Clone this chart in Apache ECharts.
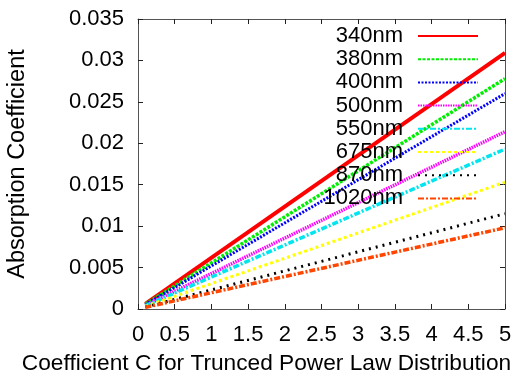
<!DOCTYPE html>
<html><head><meta charset="utf-8">
<script src="https://cdn.jsdelivr.net/npm/echarts@6/dist/echarts.min.js"></script>
<style>html,body{margin:0;padding:0;background:#fff}#c{width:517px;height:373px}</style>
</head><body><div id="c"></div>
<script>
var names = ['340nm','380nm','400nm','500nm','550nm','675nm','870nm','1020nm'];
var xStart = 0.1, xEnd = 5;
var startVals = [0.00062, 0.00056, 0.00052, 0.00043, 0.00039, 0.00031, 0.00023, 0.0002];
var endVals = [0.0309, 0.0278, 0.0260, 0.0214, 0.0193, 0.0153, 0.0115, 0.0098];
var colors = ['#ff0000','#00ee00','#0000ff','#ff00ff','#00e5ee','#ffff00','#000000','#ff4500'];
var dashes = ['solid',[3,1.5],[2,1.5],[1.5,1],[6,2,2,2],[3,3],[2,5],[6,2,2,2]];
var widths = [4,3.5,3,3.5,3.5,3,3,3.5];

var font = 'Liberation Sans, Arial, sans-serif';
var series = names.map(function(n,i){
  return {name:n,type:'line',showSymbol:false,symbol:'none',
    data:[[xStart,startVals[i]],[xEnd,endVals[i]]],
    lineStyle:{color:colors[i],width:widths[i],type:dashes[i]},
    itemStyle:{color:colors[i]}};
});
var axLine = {show:true,onZero:false,lineStyle:{color:'#555',width:1}};
var tick = {show:true,inside:true,length:5,lineStyle:{color:'#222',width:1}};
var chart = echarts.init(document.getElementById('c'));
chart.setOption({
  animation:false,
  grid:{left:138,right:12,top:19,bottom:64,outerBoundsMode:'none'},
  legend:{orient:'vertical',align:'right',right:33,top:20,itemWidth:60,itemHeight:10,itemGap:1.2,
    itemStyle:{opacity:0},
    textStyle:{fontFamily:font,fontSize:22,color:'#000',lineHeight:22,padding:[0,10,0,0]},
    data:names},
  xAxis:[{type:'value',min:0,max:5,interval:0.5,
    name:'Coefficient C for Trunced Power Law Distribution',nameLocation:'middle',nameGap:43,
    nameTextStyle:{fontFamily:font,fontSize:22.7,color:'#000',padding:[0,110,0,0]},
    axisLine:axLine,axisTick:tick,splitLine:{show:false},
    axisLabel:{fontFamily:font,fontSize:22,color:'#000',margin:15}},
   {type:'value',min:0,max:5,interval:0.5,position:'top',
    axisLine:axLine,axisTick:tick,splitLine:{show:false},axisLabel:{show:false}}],
  yAxis:[{type:'value',min:0,max:0.035,interval:0.005,
    name:'Absorption Coefficient',nameLocation:'middle',nameGap:108,
    nameTextStyle:{fontFamily:font,fontSize:23.5,color:'#000'},
    axisLine:axLine,axisTick:tick,splitLine:{show:false},
    axisLabel:{fontFamily:font,fontSize:22,color:'#000',margin:14}},
   {type:'value',min:0,max:0.035,interval:0.005,position:'right',
    axisLine:axLine,axisTick:tick,splitLine:{show:false},axisLabel:{show:false}}],
  series:series
});
</script></body></html>
